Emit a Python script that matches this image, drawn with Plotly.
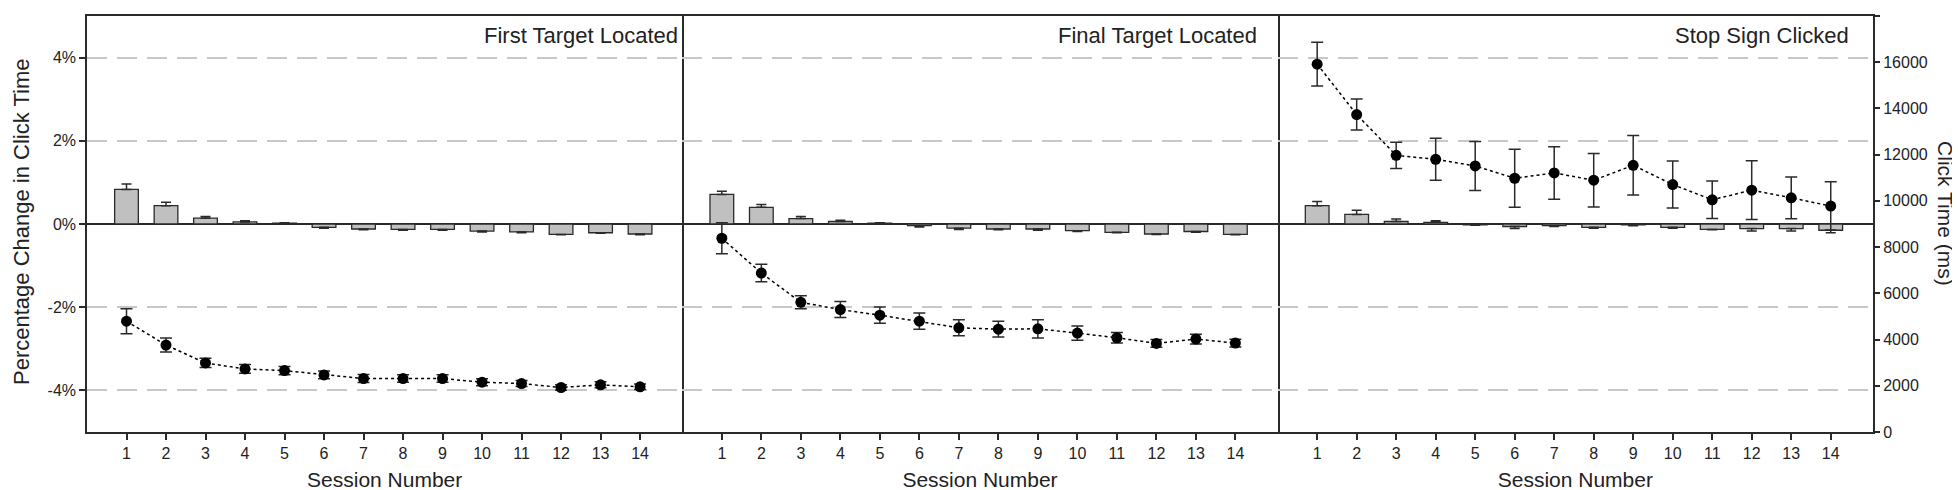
import plotly.graph_objects as go

sessions = list(range(1, 15))
panel_titles = ["First Target Located", "Final Target Located", "Stop Sign Clicked"]

first_pct = [0.83, 0.44, 0.14, 0.05, 0.02, -0.08, -0.12, -0.13, -0.13, -0.17, -0.19, -0.25, -0.21, -0.24]
first_pct_err = [0.13, 0.08, 0.04, 0.03, 0.01, 0.02, 0.02, 0.02, 0.02, 0.02, 0.02, 0.01, 0.01, 0.02]
first_ms = [4795, 3762, 2987, 2729, 2657, 2471, 2313, 2313, 2313, 2155, 2097, 1925, 2040, 1954]
first_ms_err = [540, 300, 200, 190, 180, 170, 170, 160, 160, 150, 130, 120, 130, 120]

final_pct = [0.71, 0.40, 0.13, 0.06, 0.02, -0.04, -0.10, -0.12, -0.12, -0.16, -0.20, -0.24, -0.18, -0.25]
final_pct_err = [0.08, 0.07, 0.05, 0.03, 0.01, 0.03, 0.03, 0.02, 0.03, 0.02, 0.01, 0.01, 0.02, 0.01]
final_ms = [8383, 6876, 5613, 5298, 5054, 4795, 4508, 4451, 4465, 4279, 4078, 3834, 4021, 3848]
final_ms_err = [675, 380, 280, 345, 350, 350, 345, 345, 395, 310, 230, 170, 210, 170]

stop_pct = [0.44, 0.23, 0.06, 0.04, -0.02, -0.06, -0.04, -0.08, -0.02, -0.08, -0.13, -0.11, -0.11, -0.15]
stop_pct_err = [0.10, 0.10, 0.06, 0.04, 0.01, 0.05, 0.02, 0.02, 0.02, 0.02, 0.01, 0.06, 0.06, 0.06]
stop_ms = [15917, 13736, 11970, 11798, 11511, 10980, 11209, 10894, 11540, 10708, 10048, 10464, 10134, 9775]
stop_ms_err = [950, 670, 570, 910, 1060, 1255, 1135, 1155, 1285, 1020, 810, 1270, 905, 1050]

left_ticks = [-4, -2, 0, 2, 4]
left_tick_text = ["-4%", "-2%", "0%", "2%", "4%"]
right_ticks = [0, 2000, 4000, 6000, 8000, 10000, 12000, 14000, 16000, 18000]
right_tick_text = [str(v) for v in right_ticks]

panels = [
    (first_pct, first_pct_err, first_ms, first_ms_err),
    (final_pct, final_pct_err, final_ms, final_ms_err),
    (stop_pct, stop_pct_err, stop_ms, stop_ms_err),
]

FONT = "Liberation Sans, Arial, sans-serif"
TXT = "#222222"
LINE = "#2a2a2a"

fig = go.Figure()

for i, (pct, pct_err, ms, ms_err) in enumerate(panels):
    xa = "x" if i == 0 else f"x{i+1}"
    ya = "y" if i == 0 else f"y{i+1}"
    yb = f"y{i+4}"
    up = [e if v >= 0 else 0 for v, e in zip(pct, pct_err)]
    dn = [e if v < 0 else 0 for v, e in zip(pct, pct_err)]
    fig.add_trace(go.Bar(
        x=sessions, y=pct, xaxis=xa, yaxis=ya, width=0.6,
        marker=dict(color="#c0c0c0", line=dict(color=LINE, width=1.3)),
        error_y=dict(type="data", symmetric=False, array=up, arrayminus=dn,
                     color=LINE, thickness=1.5, width=5),
        showlegend=False,
    ))
    fig.add_trace(go.Scatter(
        x=sessions, y=ms, xaxis=xa, yaxis=yb, mode="lines+markers",
        line=dict(color="#000000", width=1.5, dash="dot"),
        marker=dict(color="#000000", size=11),
        error_y=dict(type="data", array=ms_err, color=LINE, thickness=1.5, width=6),
        showlegend=False,
    ))

W = 1960
L, R = 79, 1865
pw = (R - L) / 3.0
doms = [(k * pw / (R - L), (k + 1) * pw / (R - L)) for k in range(3)]

layout = dict(
    width=W, height=490,
    margin=dict(l=L, r=W - R, t=6, b=66),
    paper_bgcolor="white", plot_bgcolor="white",
    font=dict(family=FONT, color=TXT, size=15),
    bargap=0.4,
)

for k in range(3):
    xname = "xaxis" if k == 0 else f"xaxis{k+1}"
    yname = "yaxis" if k == 0 else f"yaxis{k+1}"
    ya_id = "y" if k == 0 else f"y{k+1}"
    xa_id = "x" if k == 0 else f"x{k+1}"
    layout[xname] = dict(
        domain=list(doms[k]), anchor=ya_id, range=[0, 15.07],
        tickvals=sessions, ticktext=[str(s) for s in sessions],
        ticks="outside", ticklen=6, tickwidth=1.5, tickcolor=LINE,
        showline=True, linecolor=LINE, linewidth=1.5, mirror=True,
        showgrid=False, zeroline=False,
        tickfont=dict(size=16, family=FONT, color=TXT),
        title=dict(text="Session Number", font=dict(size=21, family=FONT, color=TXT), standoff=11),
    )
    layout[yname] = dict(
        domain=[0, 1], anchor=xa_id, range=[-5, 5],
        side="left" if k == 0 else "right",
        tickvals=left_ticks, ticktext=left_tick_text,
        showticklabels=(k == 0), ticks="outside" if k == 0 else "",
        ticklen=6, tickwidth=1.5, tickcolor=LINE,
        showline=True, linecolor=LINE, linewidth=1.5, mirror=(k == 0),
        showgrid=True, gridcolor="#c8c8c8", gridwidth=2, griddash="20px,10px",
        zeroline=True, zerolinecolor=LINE, zerolinewidth=2,
        tickfont=dict(size=16, family=FONT, color=TXT),
    )
    yb_name = f"yaxis{k+4}"
    layout[yb_name] = dict(
        overlaying=ya_id, anchor=xa_id, range=[0, 18000],
        side="right", showgrid=False, zeroline=False,
        showticklabels=(k == 2), ticks="outside" if k == 2 else "",
        tickvals=right_ticks, ticktext=right_tick_text,
        ticklen=6, tickwidth=1.5, tickcolor=LINE,
        showline=False,
        tickfont=dict(size=16, family=FONT, color=TXT),
    )

fig.update_layout(**layout)

title_x = [672, 1251, 1843]
for k, t in enumerate(panel_titles):
    fig.add_annotation(
        text=t, xref="paper", yref="paper",
        x=(title_x[k] - L) / (R - L), y=(424 - 26) / 418.0,
        xanchor="right", yanchor="middle", showarrow=False,
        font=dict(size=22, family=FONT, color=TXT),
    )

fig.add_annotation(
    text="Percentage Change in Click Time", xref="paper", yref="paper",
    x=(13 - L) / (R - L), y=(424 - 213) / 418.0, textangle=-90,
    xanchor="center", yanchor="middle", showarrow=False,
    font=dict(size=22, family=FONT, color=TXT),
)
fig.add_annotation(
    text="Click Time (ms)", xref="paper", yref="paper",
    x=(1938 - L) / (R - L), y=(424 - 205) / 418.0, textangle=90,
    xanchor="center", yanchor="middle", showarrow=False,
    font=dict(size=21, family=FONT, color=TXT),
)

fig.write_html("out.html")
